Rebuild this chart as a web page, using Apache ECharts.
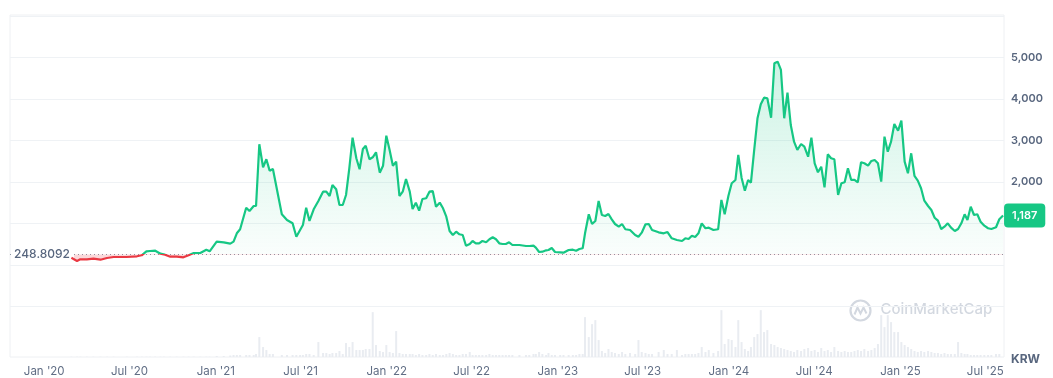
<!DOCTYPE html>
<html>
<head>
<meta charset="utf-8">
<title>Price chart (KRW)</title>
<script src="https://cdn.jsdelivr.net/npm/echarts@6/dist/echarts.min.js"></script>
<style>
  html, body { margin: 0; padding: 0; background: #fff; }
  #chart { width: 1053px; height: 378px; }
</style>
</head>
<body>
<div id="chart"></div>
<script>
const baseValue = 248.8092;

const priceDates = [
  "2020-02-28", "2020-03-11", "2020-03-18", "2020-04-01", "2020-04-15", "2020-04-30", "2020-05-14", "2020-05-28",
  "2020-06-25", "2020-07-17", "2020-07-27", "2020-08-06", "2020-08-14", "2020-08-25", "2020-09-05", "2020-09-12",
  "2020-09-26", "2020-10-10", "2020-10-24", "2020-11-04", "2020-11-15", "2020-11-29", "2020-12-12", "2020-12-19",
  "2021-01-03", "2021-01-18", "2021-02-01", "2021-02-08", "2021-02-15", "2021-02-22", "2021-03-07", "2021-03-14",
  "2021-03-23", "2021-03-28", "2021-04-04", "2021-04-12", "2021-04-19", "2021-04-26", "2021-05-03", "2021-05-22",
  "2021-06-02", "2021-06-14", "2021-06-22", "2021-06-30", "2021-07-06", "2021-07-13", "2021-07-20", "2021-07-29",
  "2021-08-08", "2021-08-18", "2021-08-25", "2021-09-01", "2021-09-07", "2021-09-15", "2021-09-22", "2021-09-29",
  "2021-10-06", "2021-10-13", "2021-10-20", "2021-10-28", "2021-11-04", "2021-11-11", "2021-11-17", "2021-11-25",
  "2021-12-02", "2021-12-09", "2021-12-17", "2021-12-24", "2021-12-31", "2022-01-07", "2022-01-14", "2022-01-21",
  "2022-01-28", "2022-02-04", "2022-02-11", "2022-02-19", "2022-02-25", "2022-03-04", "2022-03-11", "2022-03-18",
  "2022-03-26", "2022-04-02", "2022-04-09", "2022-04-16", "2022-04-24", "2022-05-01", "2022-05-08", "2022-05-15",
  "2022-05-22", "2022-05-29", "2022-06-05", "2022-06-12", "2022-06-19", "2022-06-27", "2022-07-03", "2022-07-10",
  "2022-07-17", "2022-07-24", "2022-08-01", "2022-08-08", "2022-08-15", "2022-08-22", "2022-08-29", "2022-09-05",
  "2022-09-12", "2022-09-19", "2022-09-26", "2022-10-11", "2022-10-25", "2022-11-01", "2022-11-10", "2022-11-15",
  "2022-11-22", "2022-11-29", "2022-12-07", "2022-12-12", "2022-12-19", "2022-12-26", "2023-01-06", "2023-01-13",
  "2023-01-24", "2023-02-02", "2023-02-09", "2023-02-16", "2023-02-23", "2023-02-28", "2023-03-08", "2023-03-15",
  "2023-03-22", "2023-03-29", "2023-04-05", "2023-04-12", "2023-04-19", "2023-04-26", "2023-05-03", "2023-05-11",
  "2023-05-18", "2023-05-25", "2023-06-04", "2023-06-15", "2023-06-22", "2023-06-29", "2023-07-07", "2023-07-14",
  "2023-07-21", "2023-08-04", "2023-08-15", "2023-08-23", "2023-09-01", "2023-09-12", "2023-09-23", "2023-09-30",
  "2023-10-07", "2023-10-14", "2023-10-21", "2023-10-28", "2023-11-04", "2023-11-12", "2023-11-19", "2023-11-29",
  "2023-12-09", "2023-12-16", "2023-12-23", "2023-12-31", "2024-01-07", "2024-01-15", "2024-01-21", "2024-01-28",
  "2024-02-04", "2024-02-11", "2024-02-17", "2024-02-24", "2024-03-02", "2024-03-09", "2024-03-16", "2024-03-23",
  "2024-03-31", "2024-04-07", "2024-04-14", "2024-04-21", "2024-04-28", "2024-05-05", "2024-05-12", "2024-05-19",
  "2024-05-26", "2024-06-03", "2024-06-10", "2024-06-18", "2024-06-25", "2024-07-02", "2024-07-09", "2024-07-16",
  "2024-07-23", "2024-07-30", "2024-08-06", "2024-08-13", "2024-08-21", "2024-08-28", "2024-09-04", "2024-09-11",
  "2024-09-18", "2024-09-25", "2024-10-02", "2024-10-09", "2024-10-16", "2024-10-24", "2024-10-31", "2024-11-07",
  "2024-11-14", "2024-11-21", "2024-11-28", "2024-12-05", "2024-12-12", "2024-12-19", "2024-12-27", "2025-01-03",
  "2025-01-10", "2025-01-17", "2025-01-24", "2025-01-31", "2025-02-07", "2025-02-14", "2025-02-21", "2025-03-01",
  "2025-03-08", "2025-03-15", "2025-03-22", "2025-03-29", "2025-04-05", "2025-04-12", "2025-04-19", "2025-04-27",
  "2025-05-04", "2025-05-11", "2025-05-18", "2025-05-24", "2025-05-31", "2025-06-07", "2025-06-14", "2025-06-21",
  "2025-06-29", "2025-07-07", "2025-07-14", "2025-07-24", "2025-07-31", "2025-08-08",
];

const priceValues = [
  171, 92, 132, 132, 147, 123, 164, 188,
  188, 205, 229, 325, 333, 340, 268, 253,
  195, 195, 181, 229, 284, 284, 364, 325,
  557, 542, 509, 557, 759, 856, 1376, 1297,
  1417, 1417, 2904, 2350, 2543, 2268, 2309, 1217,
  1080, 1000, 677, 839, 959, 1376, 1056, 1337,
  1538, 1762, 1762, 1658, 1923, 1820, 1441, 1441,
  1682, 2326, 3063, 2567, 2302, 2791, 2870, 2543,
  2591, 2711, 2220, 2388, 3111, 2767, 2388, 2485,
  1658, 1762, 2068, 1762, 1345, 1497, 1304, 1586,
  1603, 1762, 1779, 1400, 1497, 1362, 1159, 815,
  718, 798, 735, 718, 460, 501, 574, 518,
  518, 574, 542, 615, 663, 615, 518, 501,
  501, 542, 477, 477, 453, 453, 460, 412,
  308, 316, 349, 357, 405, 308, 301, 292,
  357, 364, 340, 381, 398, 759, 1217, 983,
  1056, 1538, 1200, 1176, 1224, 1096, 983, 918,
  983, 856, 839, 718, 677, 774, 976, 983,
  839, 783, 759, 790, 639, 598, 574, 639,
  622, 701, 670, 759, 1000, 880, 894, 839,
  856, 1562, 1217, 1665, 1964, 2044, 2646, 2099,
  1786, 2044, 1979, 2767, 3531, 3868, 4027, 4013,
  3545, 4856, 4895, 4695, 3531, 4150, 3369, 2967,
  2767, 2911, 2846, 2605, 3063, 2446, 2229, 2364,
  1868, 2663, 2567, 2543, 1682, 1964, 1988, 2326,
  2044, 2044, 1988, 2470, 2446, 2388, 2502, 2526,
  2446, 2003, 3087, 2726, 2967, 3393, 3232, 3473,
  2485, 2205, 2687, 2140, 2027, 1844, 1545, 1417,
  1321, 1135, 1063, 863, 918, 1000, 894, 815,
  863, 1000, 1217, 1080, 1400, 1200, 1217, 1039,
  942, 880, 863, 904, 1097, 1187,
];

// trading volume, same dates as the price (relative units)
const volumeValues = [
  0.3, 0.3, 0.3, 0.3, 0.3, 0.3, 0.3, 0.3,
  0.3, 0.3, 0.3, 0.3, 0.3, 0.3, 0.3, 0.3,
  0.3, 0.3, 0.3, 0.3, 0.3, 0.3, 0.3, 0.3,
  1, 1, 1.5, 2, 2, 2, 2, 2,
  2, 3, 20, 10, 7, 3, 3, 2,
  2, 2, 2, 2, 2, 3, 3, 2,
  15, 4, 4, 3, 4, 4, 6, 3,
  14, 10, 15, 7, 7, 7, 8, 8,
  45, 12, 6, 5, 12, 5, 4, 26,
  4, 3, 3, 3, 3, 2, 3, 2,
  2, 3, 2, 3, 2, 2, 3, 4,
  3, 2, 2, 3, 3, 5, 2, 2,
  2, 2, 2, 3, 2, 2, 2, 2,
  2, 2, 2, 2, 2, 2, 3, 3,
  5, 3, 2, 4, 2, 2, 2, 2,
  2, 2, 2, 3, 3, 40, 20, 33,
  37, 17, 6, 4, 8, 5, 4, 3,
  5, 3, 4, 3, 17, 5, 4, 3,
  3, 5, 7, 3, 3, 7, 2, 3,
  3, 3, 3, 4, 10, 5, 7, 4,
  6, 47, 13, 18, 17, 10, 37, 15,
  8, 6, 10, 20, 23, 47, 25, 27,
  13, 12, 10, 9, 8, 7, 6, 5,
  7, 6, 8, 9, 6, 7, 5, 9,
  6, 7, 5, 10, 6, 5, 6, 5,
  5, 6, 7, 6, 8, 6, 7, 9,
  13, 42, 30, 42, 35, 25, 25, 15,
  12, 10, 8, 6, 5, 6, 5, 6,
  5, 4, 4, 3, 4, 3, 3, 3,
  15, 4, 3, 3, 2, 2, 2, 2,
  2, 2, 2, 3, 3,
];

const xTickDates = [
  "2020-01-01", "2020-07-01", "2021-01-01", "2021-07-01", "2022-01-01", "2022-07-01",
  "2023-01-01", "2023-07-01", "2024-01-01", "2024-07-01", "2025-01-01", "2025-07-01",
];
const yTickValues = [2000, 3000, 4000, 5000];

const xMin = "2019-10-20";
const xMax = "2025-08-10";
const yMin = -2000;
const yMax = 6000;

const GREEN = "#16c784";
const RED = "#ea3943";
const TEXT = "#58667e";

const stamp = (d) => echarts.time.parse(d).getTime();

const chart = echarts.init(document.getElementById("chart"), null, { renderer: "canvas" });

// area fill: green fading down to the reference price, pink below it
const maxVal = Math.max(...priceValues);
const minVal = Math.min(...priceValues);
const split = (maxVal - baseValue) / (maxVal - minVal);
const areaColor = new echarts.graphic.LinearGradient(0, 0, 0, 1, [
  { offset: 0, color: "rgba(22,199,132,0.30)" },
  { offset: split, color: "rgba(22,199,132,0.03)" },
  { offset: split, color: "rgba(234,57,67,0.28)" },
  { offset: 1, color: "rgba(234,57,67,0.28)" },
]);

const volMax = Math.max(...volumeValues);
const tickStamps = xTickDates.map(stamp);

chart.setOption({
  animation: false,
  textStyle: { fontFamily: "Inter, 'Noto Sans', sans-serif" },
  grid: [
    { left: 10, right: 49, top: 15.8, bottom: 30.2 },
    { left: 10, right: 49, top: 15, bottom: 21, show: true, borderColor: "#eef0f3", borderWidth: 1 },
  ],
  visualMap: {
    type: "piecewise",
    show: false,
    seriesIndex: 1,
    dimension: 1,
    pieces: [
      { gte: yMin, lt: baseValue, color: RED },
      { gte: baseValue, lte: yMax, color: GREEN },
    ],
  },
  xAxis: [
    {
      type: "value", gridIndex: 0, min: stamp(xMin), max: stamp(xMax),
      axisLine: { show: false }, axisTick: { show: false }, axisLabel: { show: false }, splitLine: { show: false },
    },
    {
      type: "value", gridIndex: 1, min: stamp(xMin), max: stamp(xMax),
      axisLine: { show: false }, axisTick: { show: false }, splitLine: { show: false },
      axisLabel: {
        customValues: tickStamps,
        formatter: (val) => echarts.time.format(val, "{MMM} '{yy}", false),
        color: "#616e85",
        fontSize: 11.5,
        margin: 9,
        hideOverlap: false,
      },
    },
  ],
  yAxis: [
    {
      type: "value", gridIndex: 0, position: "right", min: yMin, max: yMax, interval: 1000,
      axisLine: { show: false }, axisTick: { show: false },
      splitLine: { lineStyle: { color: "#eff2f5" }, showMinLine: false },
      axisLabel: {
        customValues: yTickValues,
        formatter: (v) => v.toLocaleString("en-US"),
        color: TEXT, fontSize: 11, fontWeight: 600, margin: 7,
      },
    },
    {
      type: "value", gridIndex: 1, min: 0, max: volMax * 7.3, show: false,
    },
  ],
  title: {
    text: "KRW", right: 8, top: 348,
    textStyle: { color: TEXT, fontSize: 12, fontWeight: 700 },
  },
  graphic: [
    {
      type: "group", left: 848, top: 298, silent: true,
      children: [
        { type: "circle", shape: { cx: 12, cy: 12, r: 10 }, style: { fill: "none", stroke: "#d3d8e0", lineWidth: 2.2 } },
        { type: "polyline", shape: { points: [[6, 16], [9, 9], [12, 15], [15, 9], [18, 15]] }, style: { fill: "none", stroke: "#d3d8e0", lineWidth: 2 } },
        { type: "text", left: 32, top: 3, style: { text: "CoinMarketCap", fill: "#d3d8e0", fontSize: 15, fontWeight: 500, fontFamily: "Inter, sans-serif" } },
      ],
    },
  ],
  series: [
    {
      name: "Volume",
      type: "bar",
      xAxisIndex: 1,
      yAxisIndex: 1,
      barWidth: 2,
      silent: true,
      itemStyle: { color: "#e9ecf1" },
      data: priceDates.map((d, i) => [stamp(d), volumeValues[i]]),
    },
    {
      name: "Price",
      type: "line",
      xAxisIndex: 0,
      yAxisIndex: 0,
      showSymbol: false,
      symbol: "none",
      z: 5,
      lineStyle: { width: 2.2 },
      areaStyle: { origin: baseValue, color: areaColor },
      data: priceDates.map((d, i) => [stamp(d), priceValues[i]]),
      endLabel: {
        show: true,
        formatter: (p) => p.value[1].toLocaleString("en-US"),
        color: "#fff",
        backgroundColor: GREEN,
        borderRadius: 4,
        padding: [7, 8, 6, 8],
        fontSize: 11,
        fontWeight: 600,
        distance: 1,
      },
    },
    {
      // reference price line, kept apart from the visualMap colouring
      name: "Reference",
      type: "line",
      xAxisIndex: 0,
      yAxisIndex: 0,
      data: [],
      z: 4,
      markLine: {
        silent: true,
        symbol: "none",
        lineStyle: { color: "#8f98a6", type: [1, 3], width: 1 },
        label: {
          position: "start",
          distance: -64,
          formatter: () => String(baseValue),
          color: TEXT,
          fontSize: 12,
          fontWeight: 500,
          backgroundColor: "#fff",
          padding: [1, 4, 1, 2],
        },
        data: [{ yAxis: baseValue }],
      },
    },
  ],
});
</script>
</body>
</html>
